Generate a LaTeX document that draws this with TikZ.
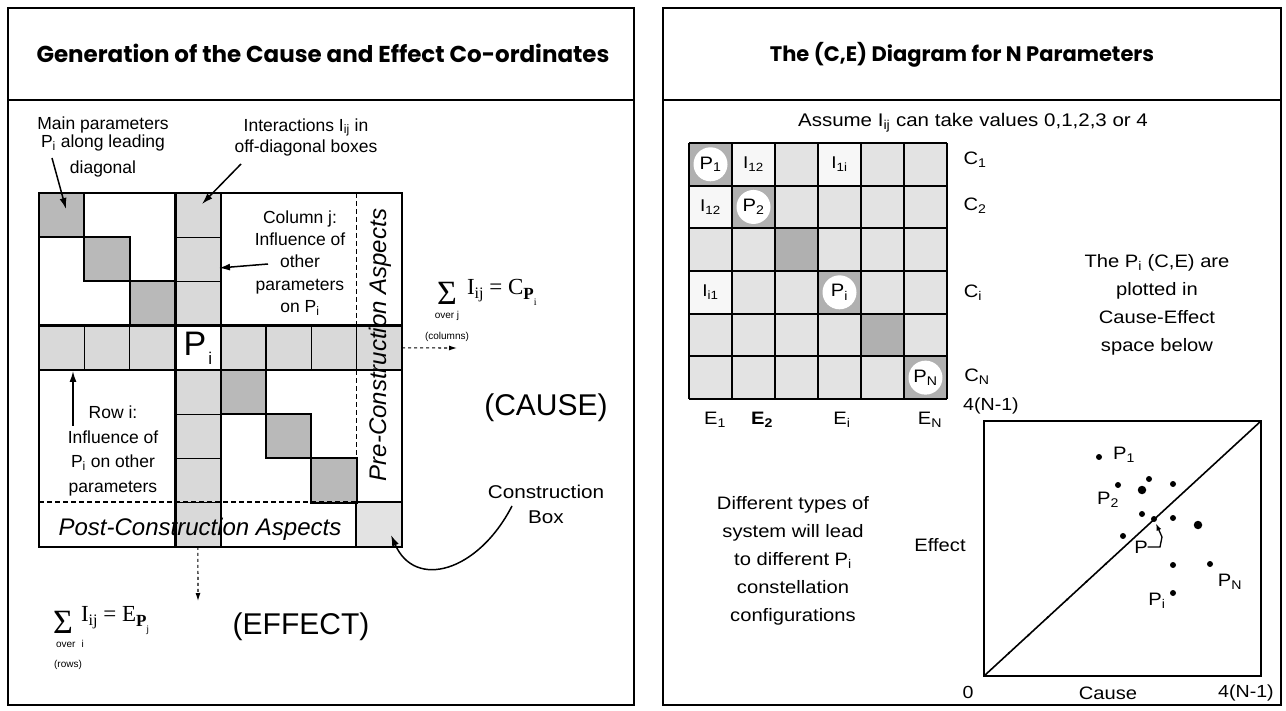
\documentclass[tikz,border=0pt]{standalone}
\usepackage{fontspec}
\setmainfont{Liberation Sans}
\newfontfamily\wide{Liberation Sans}[FakeStretch=1.12]
\newfontfamily\titlefont{Poppins}
\newfontfamily\formfont{Liberation Serif}
\usetikzlibrary{arrows.meta,shapes.geometric,calc}

% cells of the left-hand interaction matrix (8 x 8 grid)
\newcommand{\lcell}[4]{\node[#4, minimum width=45.4pt, minimum height=44.25pt] (#1) at ({61.7+45.4*#2},{215.1+44.25*#3}) {};}
% cells of the right-hand (C,E) matrix (6 x 6 grid)
\newcommand{\rcell}[4]{\node[#4, minimum width=43pt, minimum height=42.67pt] (#1) at ({710.5+43*#2},{164.3+42.67*#3}) {};}
% serif subscripts of the summation formulas
\newcommand{\fsub}[1]{\raisebox{-4pt}{\fontsize{16}{16}\selectfont #1}}
\newcommand{\fsubP}[1]{\raisebox{-5pt}{\fontsize{17}{17}\selectfont\bfseries P}\raisebox{-11pt}{\fontsize{10}{10}\selectfont #1}}

\tikzset{
  every node/.style={inner sep=0pt, outer sep=0pt},
  frame/.style={line width=2.4pt},
  titlef/.style={font=\titlefont\bfseries\fontsize{21}{21}\selectfont},
  lab/.style={font=\fontsize{17.5}{22}\selectfont, align=center},
  wlab/.style={font=\wide\fontsize{18}{28}\selectfont, align=center},
  small/.style={font=\fontsize{10}{12}\selectfont},
  big/.style={font=\fontsize{30}{30}\selectfont},
  sigma/.style={font=\formfont\fontsize{34}{34}\selectfont},
  formula/.style={anchor=west, font=\formfont\fontsize{23}{23}\selectfont},
  aspect/.style={font=\fontsize{24}{24}\selectfont\itshape},
  lightcell/.style={draw, line width=1.2pt, fill=gray!30},
  darkcell/.style={draw, line width=2pt, fill=gray!55},
  whitecell/.style={draw, line width=2pt, fill=white},
  boxcell/.style={fill=gray!22},
  rlight/.style={fill=gray!22},
  rwhite/.style={fill=gray!6},
  rdark/.style={fill=gray!62},
  pcirc/.style={circle, fill=white, minimum size=34pt, font=\wide\fontsize{18}{18}\selectfont},
  ilab/.style={font=\wide\fontsize{17}{17}\selectfont},
  axl/.style={font=\wide\fontsize{18}{18}\selectfont},
  arr/.style={line width=1.5pt, -{Latex[length=11pt,width=7pt]}},
  darr/.style={line width=1.1pt, dashed, -{Latex[length=8pt,width=5pt]}},
  dot/.style={circle, fill=black, minimum size=6pt},
  bigdot/.style={circle, fill=black, minimum size=8.5pt},
  tick/.style={circle, fill=black, minimum size=2.5pt},
}

\begin{document}
\begin{tikzpicture}[x=1pt,y=-1pt]
\useasboundingbox (0,0) rectangle (1286,711);
\fill[white] (0,0) rectangle (1286,711);

%%%%%%%%%%%%%%%% Left panel: generation of the coordinates %%%%%%%%%%%%%%%%
\draw[frame] (8,8) rectangle (634,705);
\draw[frame] (8,100) -- (634,100);
\node[titlef, font=\titlefont\bfseries\fontsize{23}{23}\selectfont] (ltitle) at (323,53) {Generation of the Cause and Effect Co-ordinates};

% column j
\lcell{c30}{3}{0}{lightcell}
\lcell{c31}{3}{1}{lightcell}
\lcell{c32}{3}{2}{lightcell}
\lcell{c34}{3}{4}{lightcell}
\lcell{c35}{3}{5}{lightcell}
\lcell{c36}{3}{6}{lightcell}
\lcell{c37}{3}{7}{lightcell}
% row i
\lcell{c03}{0}{3}{lightcell}
\lcell{c13}{1}{3}{lightcell}
\lcell{c23}{2}{3}{lightcell}
\lcell{c43}{4}{3}{lightcell}
\lcell{c53}{5}{3}{lightcell}
\lcell{c63}{6}{3}{lightcell}
\lcell{c73}{7}{3}{lightcell}
% construction box
\lcell{c77}{7}{7}{boxcell}
% leading diagonal
\lcell{c00}{0}{0}{darkcell}
\lcell{c11}{1}{1}{darkcell}
\lcell{c22}{2}{2}{darkcell}
\lcell{c44}{4}{4}{darkcell}
\lcell{c55}{5}{5}{darkcell}
\lcell{c66}{6}{6}{darkcell}
\lcell{c33}{3}{3}{whitecell}

% heavy lines of the matrix
\draw[line width=2pt] (39,193) rectangle (402,547);
\draw[line width=3.2pt] (175.2,193) -- (175.2,547);
\draw[line width=1.8pt] (220.6,193) -- (220.6,547);
\draw[line width=2.6pt] (39,325.75) -- (402,325.75);
\draw[line width=2.6pt] (39,370) -- (402,370);
\draw[line width=1.2pt, dash pattern=on 5pt off 3pt] (356.2,193) -- (356.2,325.75) (356.2,370) -- (356.2,502);
\draw[line width=1.2pt, dash pattern=on 5pt off 3pt] (39,502) -- (356.2,502);
\draw[line width=1.6pt] (402,502) -- (356.2,502) -- (356.2,547);

% P_i in the crossing cell
\node (pi) at (c33) {\fontsize{34}{34}\selectfont P\kern2pt\raisebox{-9pt}{\fontsize{17}{17}\selectfont i}};

% region labels
\node[aspect] (post) at (200,529) {Post-Construction Aspects};
\node[aspect, rotate=90] (pre) at (380,345) {Pre-Construction Aspects};

% annotations
\node[lab] (mainpar) at (103,147) {Main parameters\\[-4pt] P\textsubscript{i} along leading\\[4pt] diagonal};
\coordinate (mp-tail) at (52,158);
\coordinate (mp-tip) at (66,209);
\draw[arr] (mp-tail) -- (mp-tip);

\node[lab] (inter) at (306,137) {Interactions I\textsubscript{ij} in\\[-1pt] off-diagonal boxes};
\coordinate (in-tail) at (241,164);
\coordinate (in-tip) at (202,204);
\draw[arr] (in-tail) -- (in-tip);

\node[lab, font=\fontsize{17.5}{22.3}\selectfont] (colj) at (300,263) {Column j:\\ Influence of\\ other\\ parameters\\ on P\textsubscript{i}};
\coordinate (cj-tail) at (268,264);
\coordinate (cj-tip) at (219,268);
\draw[arr] (cj-tail) -- (cj-tip);

\node[lab, font=\fontsize{17.5}{24.5}\selectfont] (rowi) at (113,451) {Row i:\\ Influence of\\ P\textsubscript{i} on other\\ parameters};
\coordinate (ri-tail) at (73,426);
\coordinate (ri-tip) at (73,371);
\draw[arr] (ri-tail) -- (ri-tip);

% cause: summation over columns
\coordinate (cause-tip) at (457,348);
\draw[darr] (c73.east) -- (cause-tip);
\node[small] (colw) at (447,337) {(columns)};
\node[sigma] (sumc) at (447,293) {Σ};
\node[small] (overj) at (447,316) {over j};
\node[formula] (cpi) at (467,292) {I\fsub{ij} = C\fsubP{i}};
\node[big] (cause) at (546,408) {(CAUSE)};

% effect: summation over rows
\coordinate (eff-tip) at (198,601);
\draw[darr] (c37.south) -- (eff-tip);
\node[sigma] (sume) at (63,622) {Σ};
\node[small] (overi) at (70,644) {over\,\, i};
\node[formula] (epj) at (81,621) {I\fsub{ij} = E\fsubP{j}};
\node[small] (rows) at (68,665) {(rows)};
\node[big] (effect) at (301,627) {(EFFECT)};

% construction box pointer
\node[wlab, font=\wide\fontsize{18.5}{25}\selectfont] (cbox) at (546,504) {Construction\\ Box};
\coordinate (cb-tail) at (512,506);
\coordinate (cb-tip) at (391,535);
\draw[arr] (cb-tail) .. controls (478,572) and (415,590) .. (cb-tip);

%%%%%%%%%%%%%%%% Right panel: the (C,E) diagram %%%%%%%%%%%%%%%%
\draw[frame] (663,8) rectangle (1281,705);
\draw[frame] (663,100) -- (1281,100);
\node[titlef] (rtitle) at (962,55) {The (C,E) Diagram for N Parameters};

\node[wlab, font=\wide\fontsize{18.3}{18}\selectfont] (assume) at (973,123) {Assume I\textsubscript{ij} can take values 0,1,2,3 or 4};

% matrix cells
\foreach \c in {0,...,5}{
  \foreach \r in {0,...,5}{
    \rcell{m\c\r}{\c}{\r}{rlight}
  }
}
\rcell{w10}{1}{0}{rwhite}
\rcell{w30}{3}{0}{rwhite}
\rcell{w01}{0}{1}{rwhite}
\rcell{w03}{0}{3}{rwhite}
\rcell{d00}{0}{0}{rdark}
\rcell{d11}{1}{1}{rdark}
\rcell{d22}{2}{2}{rdark}
\rcell{d33}{3}{3}{rdark}
\rcell{d44}{4}{4}{rdark}
\rcell{d55}{5}{5}{rdark}
\foreach \k in {0,...,6}{
  \draw[line width=2.3pt] ({689+43*\k},143) -- ({689+43*\k},399);
  \draw[line width=2.3pt] (689,{143+42.67*\k}) -- (947,{143+42.67*\k});
}
\node[pcirc] (p1) at (d00) {P\textsubscript{1}};
\node[pcirc] (p2) at (d11) {P\textsubscript{2}};
\node[pcirc] (pii) at (d33) {P\textsubscript{i}};
\node[pcirc] (pn) at (d55) {P\textsubscript{N}};
\node[ilab] (i12a) at (w10) {I\textsubscript{12}};
\node[ilab] (i1i) at (w30) {I\textsubscript{1i}};
\node[ilab] (i12b) at (w01) {I\textsubscript{12}};
\node[ilab] (ii1) at (w03) {I\textsubscript{i1}};

% row and column labels
\node[axl] (c1) at (975,160) {C\textsubscript{1}};
\node[axl] (c2) at (975,206) {C\textsubscript{2}};
\node[axl] (ci) at (973,293) {C\textsubscript{i}};
\node[axl] (cn) at (977,377) {C\textsubscript{N}};
\node[axl] (e1) at (715,420) {E\textsubscript{1}};
\node[axl, font=\wide\bfseries\fontsize{18}{18}\selectfont] (e2) at (762,420) {E\textsubscript{2}};
\node[axl] (ei) at (842,420) {E\textsubscript{i}};
\node[axl] (en) at (930,420) {E\textsubscript{N}};

\node[wlab] (plotted) at (1157,305) {The P\textsubscript{i} (C,E) are\\ plotted in\\ Cause-Effect\\ space below};
\node[wlab] (types) at (793,561) {Different types of\\ system will lead\\ to different P\textsubscript{i}\\ constellation\\ configurations};

% Cause-Effect space
\node[draw, line width=2pt, minimum width=277pt, minimum height=255pt] (plot) at (1122.5,548.5) {};
\draw[line width=1.6pt] (plot.south west) -- (plot.north east);
\foreach \t in {0.09,0.16,0.23,0.30,0.37,0.44}{
  \node[tick] at ($(plot.south west)!\t!(plot.north east)$) {};
}
\node[axl, font=\wide\fontsize{17.5}{17}\selectfont] (ymax) at (991,406) {4(N-1)};
\node[axl, font=\wide\fontsize{17.5}{17}\selectfont] (zero) at (968,692) {0};
\node[axl] (causel) at (1108,693) {Cause};
\node[axl, font=\wide\fontsize{17.5}{17}\selectfont] (xmax) at (1246,693) {4(N-1)};
\node[axl] (effectl) at (940,545) {Effect};

% the P_i (C,E) points
\node[dot] (q1) at (1099,457) {};
\node[dot] (q2) at (1118,485) {};
\node[dot] (q3) at (1149,479) {};
\node[bigdot] (q4) at (1142,490) {};
\node[dot] (q5) at (1173,484) {};
\node[dot] (q6) at (1142,514) {};
\node[dot] (q7) at (1154,519) {};
\node[dot] (q8) at (1173,518) {};
\node[bigdot] (q9) at (1198,525) {};
\node[dot] (q10) at (1123,536) {};
\node[dot] (q11) at (1173,565) {};
\node[dot] (q12) at (1210,564) {};
\node[dot] (q13) at (1173,593) {};

\node[axl] (lp1) at (1124,455) {P\textsubscript{1}};
\node[axl] (lp2) at (1108,500) {P\textsubscript{2}};
\node[axl] (lpp) at (1141,547) {P};
\node[axl] (lpn) at (1230,582) {P\textsubscript{N}};
\node[axl] (lpi) at (1157,601) {P\textsubscript{i}};
\coordinate (pk1) at (1160,547);
\coordinate (pk2) at (1162,537);
\draw[line width=1.3pt, -{Latex[length=7pt,width=5pt]}, shorten >=2pt] (lpp.east) -- (pk1) -- (pk2) -- (q7);
\end{tikzpicture}
\end{document}
